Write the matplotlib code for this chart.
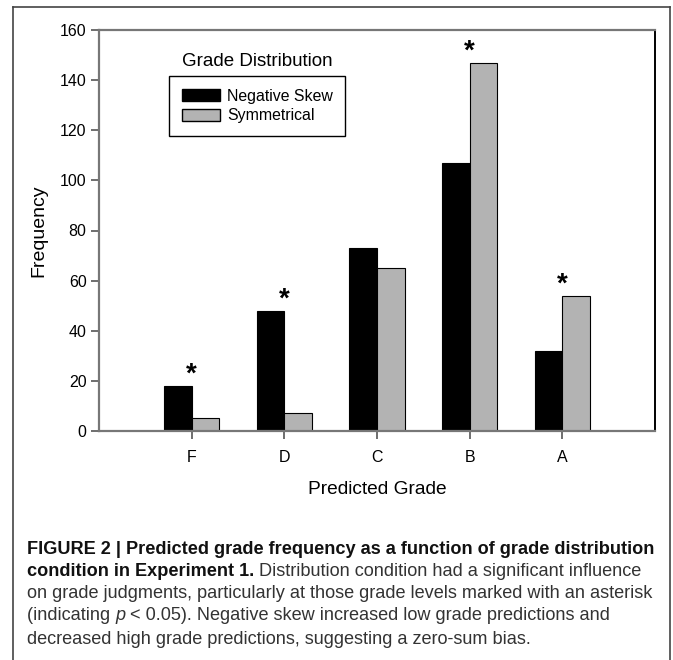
import matplotlib
matplotlib.use("Agg")
import matplotlib.pyplot as plt
from matplotlib.lines import Line2D
from matplotlib.patches import Patch

grades = ["F", "D", "C", "B", "A"]
negative_skew = [18, 48, 73, 107, 32]
symmetrical = [5, 7, 65, 147, 54]
significant = [True, True, False, True, True]

W, H = 673, 660
BAR_W = 0.3
GRAY = "#b3b3b3"
FONT = "Liberation Sans"

plt.rcParams["font.family"] = [FONT, "DejaVu Sans"]

fig = plt.figure(figsize=(W / 100, H / 100), dpi=100)


def fx(px):
    return px / W


def fy(py):
    return 1 - py / H


ax = fig.add_axes([fx(99), fy(431), fx(655) - fx(99), fy(30) - fy(431)])
x = list(range(1, len(grades) + 1))
ax.bar([i - BAR_W / 2 for i in x], negative_skew, width=BAR_W,
       color="black", edgecolor="black", linewidth=0.8, zorder=2)
ax.bar([i + BAR_W / 2 for i in x], symmetrical, width=BAR_W,
       color=GRAY, edgecolor="black", linewidth=0.8, zorder=2)

# asterisks mark significant differences
for i, sig in enumerate(significant):
    if sig:
        top = max(negative_skew[i], symmetrical[i])
        ax.text(x[i], top + 1.6, "*", ha="center", va="baseline",
                fontsize=20, fontweight="bold")

ax.set_xlim(0, 6)
ax.set_ylim(0, 160)
ax.set_yticks(range(0, 161, 20))
ax.set_xticks(x)
ax.set_xticklabels(grades)
ax.tick_params(axis="both", direction="out", length=6, width=1.2,
               color="#555555", labelsize=11.5, pad=3)
ax.tick_params(axis="x", pad=8)
for side in ["left", "top", "bottom"]:
    ax.spines[side].set_color("#777777")
    ax.spines[side].set_linewidth(1.6)
ax.spines["right"].set_color("black")
ax.spines["right"].set_linewidth(1.4)

ax.set_ylabel("Frequency", fontsize=14, labelpad=9)
ax.set_xlabel("Predicted Grade", fontsize=13.8, labelpad=11)

handles = [Patch(facecolor="black", edgecolor="black", label="Negative Skew"),
           Patch(facecolor=GRAY, edgecolor="black", label="Symmetrical")]
leg = ax.legend(handles=handles, loc="upper left",
                bbox_to_anchor=(fx(169), fy(76)), bbox_transform=fig.transFigure,
                borderaxespad=0, fancybox=False, framealpha=1, edgecolor="black",
                fontsize=11.4, handlelength=2.4, handleheight=0.8,
                borderpad=0.8, labelspacing=0.3, handletextpad=0.45)
leg.get_frame().set_linewidth(1.0)
fig.text(fx(257), fy(61), "Grade Distribution", ha="center", va="center",
         fontsize=13.5)

# outer frame (open at the bottom)
frame_kw = dict(color="#444444", linewidth=1.2, transform=fig.transFigure)
fig.add_artist(Line2D([fx(13), fx(13)], [fy(7), 0], **frame_kw))
fig.add_artist(Line2D([fx(13), fx(670)], [fy(7), fy(7)], **frame_kw))
fig.add_artist(Line2D([fx(670), fx(670)], [fy(7), 0], **frame_kw))

# caption with mixed styles
caption = [
    [("FIGURE 2 | Predicted grade frequency as a function of grade distribution", "bold")],
    [("condition in Experiment 1.", "bold"),
     (" Distribution condition had a significant influence", "normal")],
    [("on grade judgments, particularly at those grade levels marked with an asterisk", "normal")],
    [("(indicating ", "normal"), ("p", "italic"),
     (" < 0.05). Negative skew increased low grade predictions and", "normal")],
    [("decreased high grade predictions, suggesting a zero-sum bias.", "normal")],
]
line_y = [549, 572, 594, 616, 639]
renderer = fig.canvas.get_renderer()


def run_kw(style, size):
    kw = dict(fontsize=size, va="center", ha="left")
    if style == "bold":
        kw["fontweight"] = "bold"
        kw["color"] = "#111111"
    else:
        kw["color"] = "#333333"
    if style == "italic":
        kw["fontstyle"] = "italic"
    return kw


# fit the caption size so the first line spans the frame width
probe = fig.text(0, 0, caption[0][0][0], **run_kw("bold", 14))
cap_size = 14 * 628 / probe.get_window_extent(renderer).width
probe.remove()

for runs, py in zip(caption, line_y):
    cur = 27
    for txt, style in runs:
        t = fig.text(fx(cur), fy(py), txt, **run_kw(style, cap_size))
        cur += t.get_window_extent(renderer).width

fig.savefig("out.png", dpi=100)
